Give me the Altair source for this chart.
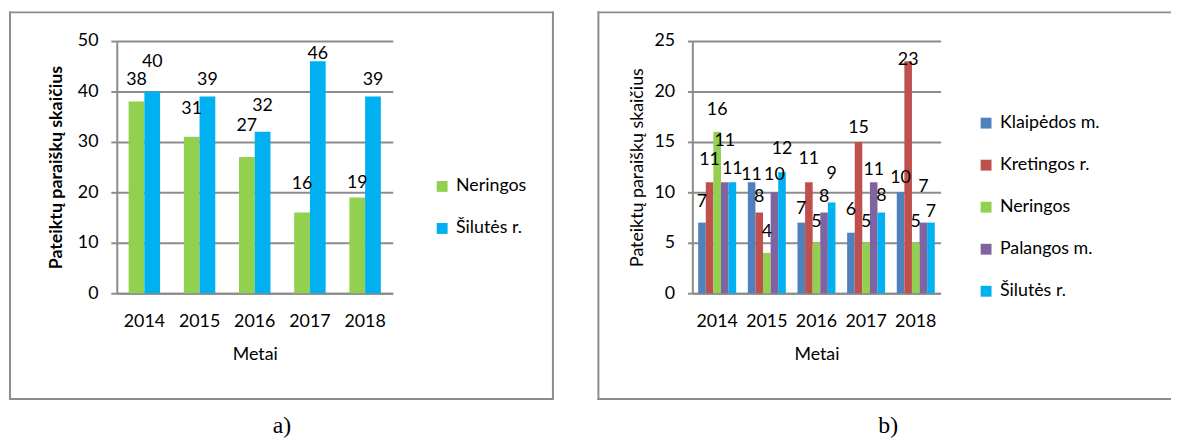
import altair as alt
import pandas as pd

# ---------------- data ----------------
years = ["2014", "2015", "2016", "2017", "2018"]

# panel a)
a_series = ["Neringos", "Šilutės r."]
a_neringos = [38, 31, 27, 16, 19]
a_silutes = [40, 39, 32, 46, 39]
a_colors = ["#92D050", "#00B0F0"]

# panel b)
b_series = ["Klaipėdos m.", "Kretingos r.", "Neringos", "Palangos m.", "Šilutės r."]
b_klaipedos = [7, 11, 7, 6, 10]
b_kretingos = [11, 8, 11, 15, 23]
b_neringos = [16, 4, 5, 5, 5]
b_palangos = [11, 10, 8, 11, 7]
b_silutes = [11, 12, 9, 8, 7]
b_colors = ["#4F81BD", "#C0504D", "#92D050", "#8064A2", "#00B0F0"]

# value-label lift above each bar top (style, in pixels), as placed in the reference
a_lift_neringos = [17, 23, 26, 24, 9]
a_lift_silutes = [25, 12, 21, 2, 12]
b_lift_klaipedos = [16, 2, 9, 18, 9]
b_lift_kretingos = [17, 11, 18, 9, -4]
b_lift_neringos = [17, 16, 16, 16, 16]
b_lift_palangos = [37, 12, 11, 7, 31]
b_lift_silutes = [8, 18, 24, 12, 6]

y_title = "Pateiktų paraiškų skaičius"
x_title = "Metai"

a_ticks = [0, 10, 20, 30, 40, 50]
b_ticks = [0, 5, 10, 15, 20, 25]


def long_df(series, columns, lifts):
    rows = []
    for s, vals, lf in zip(series, columns, lifts):
        for y, v, l in zip(years, vals, lf):
            rows.append({"Metai": y, "Serija": s, "Reikšmė": v, "lift": l})
    return pd.DataFrame(rows)


df_a = long_df(a_series, [a_neringos, a_silutes], [a_lift_neringos, a_lift_silutes])
df_b = long_df(b_series, [b_klaipedos, b_kretingos, b_neringos, b_palangos, b_silutes],
               [b_lift_klaipedos, b_lift_kretingos, b_lift_neringos, b_lift_palangos,
                b_lift_silutes])

FONT = "Lato"
FS = 18
GRAY = "#8c8c8c"
H = 255


def panel(df, series, colors, ticks, width, pad_inner, tick_size, label_pad,
          title_weight, title_x, legend_x, legend_y, frame, right_edge,
          caption, caption_x):
    ymax = ticks[-1]
    x_enc = alt.X(
        "Metai:N", sort=years,
        scale=alt.Scale(paddingInner=pad_inner, paddingOuter=pad_inner / 2),
        axis=alt.Axis(title=x_title, labelAngle=0, ticks=False, tickSize=0,
                      labelPadding=20, domainColor=GRAY, domainWidth=2,
                      titleY=62, titleBaseline="middle", titleFontWeight="normal"),
    )
    xo_enc = alt.XOffset("Serija:N", sort=series,
                         scale=alt.Scale(paddingInner=0, paddingOuter=0))
    y_enc = alt.Y(
        "Reikšmė:Q",
        scale=alt.Scale(domain=[0, ymax], nice=False),
        axis=alt.Axis(values=ticks, title=y_title, grid=True, gridColor=GRAY,
                      gridWidth=2, domainColor=GRAY, domainWidth=2,
                      tickColor=GRAY, tickWidth=2, tickSize=tick_size,
                      labelPadding=label_pad, titleX=title_x, titleY=H / 2,
                      titleAngle=-90, titleAlign="center", titleBaseline="middle",
                      titleFontWeight=title_weight),
    )
    bars = alt.Chart(df).mark_bar(strokeWidth=0).encode(
        x=x_enc, xOffset=xo_enc, y=y_enc,
        color=alt.Color(
            "Serija:N", sort=series,
            scale=alt.Scale(domain=series, range=colors),
            legend=alt.Legend(title=None, orient="none", legendX=legend_x,
                              legendY=legend_y, symbolType="square",
                              symbolSize=121, symbolStrokeWidth=0,
                              labelFont=FONT, labelFontSize=FS,
                              labelColor="black", rowPadding=24.5,
                              labelOffset=5, padding=0),
        ),
    )
    labels = alt.Chart(df).transform_calculate(
        label_y=f"datum['Reikšmė'] + datum.lift * {ymax} / {H}"
    ).mark_text(
        font=FONT, fontSize=FS, color="black", baseline="alphabetic", align="center",
    ).encode(
        x=alt.X("Metai:N", sort=years), xOffset=alt.XOffset("Serija:N", sort=series),
        y=alt.Y("label_y:Q"), text=alt.Text("Reikšmė:Q"),
    )

    # decorative frame drawn as thin filled strips (no stroke)
    one = pd.DataFrame({"k": [0]})
    fx0, fx1, fy0, fy1 = frame
    strip = alt.Chart(one).mark_rect(color=GRAY, strokeWidth=0)
    frames = [
        strip.encode(x=alt.value(fx0 - 1), x2=alt.value(fx1 + 1),
                     y=alt.value(fy0 - 1), y2=alt.value(fy0 + 1)),
        strip.encode(x=alt.value(fx0 - 1), x2=alt.value(fx1 + 1),
                     y=alt.value(fy1 - 1), y2=alt.value(fy1 + 1)),
        strip.encode(x=alt.value(fx0 - 1), x2=alt.value(fx0 + 1),
                     y=alt.value(fy0 - 1), y2=alt.value(fy1 + 1)),
    ]
    if right_edge:
        frames.append(strip.encode(x=alt.value(fx1 - 1), x2=alt.value(fx1 + 1),
                                   y=alt.value(fy0 - 1), y2=alt.value(fy1 + 1)))
    cap = alt.Chart(one).mark_text(
        font="Liberation Serif", fontSize=24, color="black",
        baseline="alphabetic", align="center",
    ).encode(x=alt.value(caption_x), y=alt.value(396), text=alt.value(caption))

    return alt.layer(*frames, bars, labels, cap).properties(width=width, height=H)


left = panel(df_a, a_series, a_colors, a_ticks, 279, 0.43, 6, 13, "bold", -61,
             320, 138, (-108, 441, -29, 362), True, "a)", 167)
right = panel(df_b, b_series, b_colors, b_ticks, 251, 0.235, 5, 13, "normal", -55,
              288, 74, (-95, 483, -29, 362), False, "b)", 198)

chart = (
    alt.hconcat(left, right, spacing=44)
    .resolve_scale(color="independent", x="independent", y="independent",
                   xOffset="independent")
    .resolve_legend(color="independent")
    .properties(padding={"left": 1, "top": 1, "right": 0, "bottom": 0})
    .configure_view(stroke=None)
    .configure_axis(labelFont=FONT, labelFontSize=FS, labelColor="black",
                    titleFont=FONT, titleFontSize=FS, titleColor="black")
)

chart.save("out.html", embed_options={"renderer": "svg", "actions": False})
